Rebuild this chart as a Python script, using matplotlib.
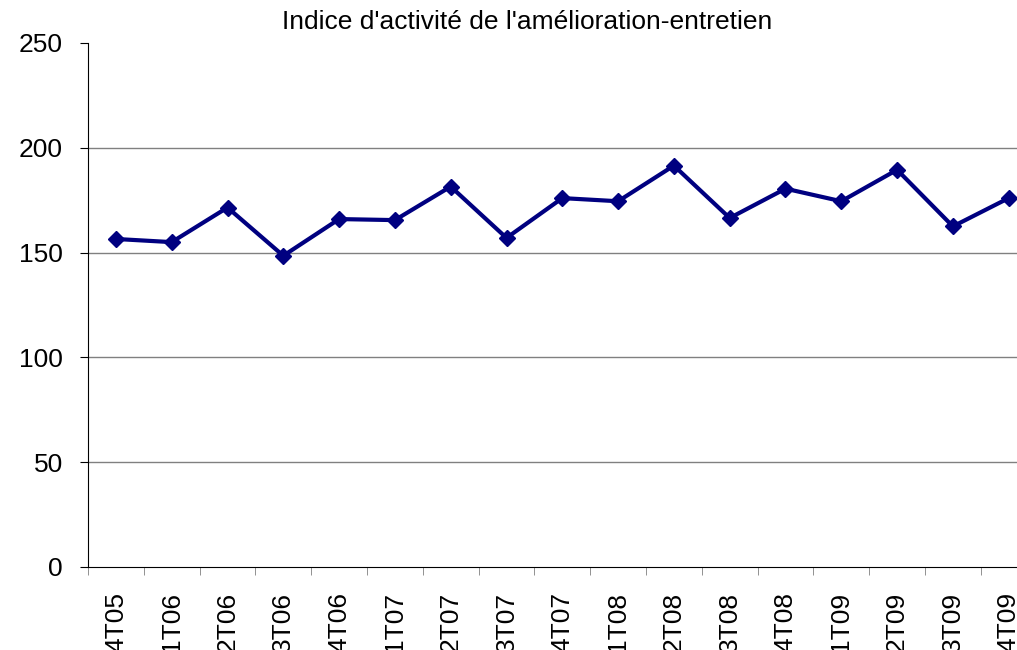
import matplotlib
matplotlib.use("Agg")
from matplotlib import pyplot as plt
import numpy as np

# quarters and index values
quarters = ["4T05", "1T06", "2T06", "3T06", "4T06", "1T07", "2T07", "3T07", "4T07",
            "1T08", "2T08", "3T08", "4T08", "1T09", "2T09", "3T09", "4T09"]
index_values = [156.5, 155, 171.5, 148.5, 166, 165.5, 181.5, 157, 176,
                174.5, 191.5, 166.5, 180.5, 174.5, 189.5, 162.5, 176]
y_ticks = [0, 50, 100, 150, 200, 250]

plt.rcParams["font.family"] = ["Liberation Sans", "DejaVu Sans"]

fig = plt.figure(figsize=(10.17, 6.5), dpi=100)
ax = fig.add_axes([88 / 1017, 83 / 650, 17 * 55.8 / 1017, 524 / 650])

x = np.arange(len(quarters))
ax.plot(x, index_values, color="#000080", lw=3, marker="D", ms=8.5, zorder=3)

ax.set_xlim(-0.5, len(quarters) - 0.5)
ax.set_ylim(0, 250)

for v in y_ticks[1:-1]:
    ax.axhline(v, color="#808080", lw=1, zorder=1)

ax.set_yticks(y_ticks)
ax.tick_params(axis="y", labelsize=19, length=6, direction="out", pad=12)

ax.set_xticks(x)
ax.set_xticklabels(quarters, rotation=90, fontsize=19, va="top")
ax.set_xticks(np.arange(len(quarters) + 1) - 0.5, minor=True)
ax.tick_params(axis="x", which="major", length=0, pad=18)
ax.tick_params(axis="x", which="minor", length=6, color="#808080")

for s in ["top", "right"]:
    ax.spines[s].set_visible(False)
ax.spines["left"].set_color("black")
ax.spines["bottom"].set_color("black")

fig.text(527 / 1017, 1 - 22 / 650, "Indice d'activité de l'amélioration-entretien",
         ha="center", va="center", fontsize=19)

fig.savefig("out.png", dpi=100)
